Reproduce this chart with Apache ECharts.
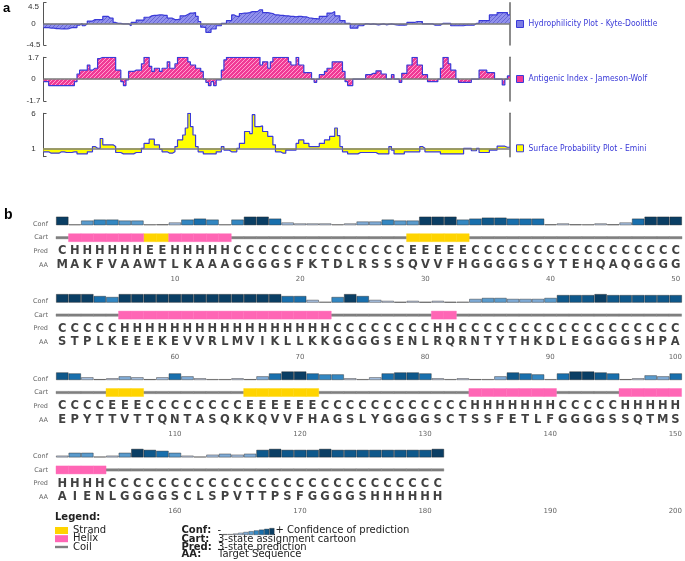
<!DOCTYPE html>
<html><head><meta charset="utf-8">
<script src="https://cdn.jsdelivr.net/npm/echarts@6/dist/echarts.min.js"></script>
<style>html,body{margin:0;padding:0;background:#fff}#c{width:685px;height:561px}</style>
</head><body><div id="c"></div>
<script>
// ---------- Panel a: per-residue profiles (residues 1..181) ----------
const hydrophilicity = [
 -0.8,-0.8,-0.9,-0.9,-1.0,-1.0,-1.1,-1.0,-1.1,-1.0,
 -0.8,-0.8,-0.8,-0.3,0.1,-0.4,0.0,0.6,0.6,0.9,
 0.9,0.9,0.9,1.6,1.6,1.2,1.2,0.3,0.1,0.1,
 0.0,0.0,0.0,-0.4,0.3,0.3,0.8,0.8,0.8,1.4,
 1.4,1.7,1.8,1.8,1.9,1.9,1.8,1.8,1.2,1.2,
 0.9,0.9,1.0,1.7,1.7,2.0,2.3,2.3,2.4,1.6,
 0.5,-0.7,-0.8,-1.8,-1.8,-1.1,-1.1,-0.4,-0.4,0.1,
 0.1,0.7,0.7,1.9,1.6,1.6,2.2,2.3,2.3,2.4,
 2.6,2.6,2.6,3.0,3.0,2.4,2.4,2.3,2.2,1.9,
 1.9,1.8,1.8,1.7,1.7,1.6,1.6,1.5,1.6,1.6,
 1.5,1.5,1.3,1.2,1.1,1.1,1.0,1.6,1.6,1.6,
 2.3,2.3,2.6,1.7,1.7,0.7,0.7,0.1,0.1,-0.9,
 -0.9,-0.9,-0.4,-0.4,0.0,0.0,-0.1,0.0,-0.1,-0.2,
 -0.1,0.0,-0.2,-0.1,0.0,-0.1,-0.2,-0.3,-0.2,-0.3,
 -0.2,0.3,0.3,0.3,0.5,0.5,0.5,0.0,0.0,0.0,
 0.0,-0.3,-0.3,-0.3,0.1,0.1,0.1,0.1,-0.4,-0.4,
 -0.4,-0.4,-0.4,-0.3,-0.3,-0.3,-0.3,0.1,0.1,0.7,
 0.7,0.7,0.7,1.9,1.9,1.9,2.4,2.4,2.4,2.4,1.9
];
const antigenic = [
 -0.2,-0.2,-0.5,-0.5,-0.5,-0.5,-0.5,-0.5,-0.5,-0.5,
 -0.5,-0.5,-0.2,0.4,0.7,0.7,0.7,1.1,0.7,0.85,
 0.85,1.6,1.7,1.7,1.7,1.7,1.7,1.7,0.7,0.7,
 -0.2,-0.5,-0.05,0.6,0.6,0.7,0.7,0.7,1.2,1.7,
 1.7,1.0,0.6,0.85,0.85,0.6,0.85,0.85,1.35,0.85,
 0.85,1.2,1.7,1.7,1.7,1.7,1.35,1.1,1.1,0.85,
 0.85,0.6,0.0,-0.25,-0.5,-0.2,-0.5,-0.05,-0.05,0.7,
 1.5,1.7,1.7,1.7,1.7,1.7,1.7,1.7,1.7,1.7,
 1.7,1.7,1.7,1.7,1.1,1.35,1.35,0.85,1.35,1.7,
 1.7,1.7,1.7,1.7,1.7,1.35,1.1,1.1,1.7,1.1,
 1.1,0.5,0.5,0.5,0.0,-0.25,0.0,0.35,0.35,0.6,
 0.85,0.85,1.35,1.35,1.35,1.35,0.6,-0.2,-0.5,-0.5,
 0.0,0.0,0.0,0.0,0.0,0.35,0.35,0.45,0.45,0.65,
 0.65,0.4,0.4,0.0,0.0,0.35,0.0,0.0,-0.25,0.45,
 0.45,1.1,1.1,1.7,1.7,1.1,1.1,0.35,0.35,-0.2,
 -0.2,-0.2,-0.2,0.0,0.85,1.7,1.7,1.2,0.7,0.7,
 0.0,-0.25,-0.25,-0.25,-0.25,-0.25,0.0,0.0,0.0,0.7,
 0.7,0.7,0.5,0.5,0.5,0.0,0.0,0.0,-0.45,0.0,0.25
];
const surface = [
 0.5,0.5,0.3,0.3,0.3,0.3,0.5,0.5,0.4,0.4,
 0.4,0.5,0.5,0.2,0.2,0.2,0.2,0.5,0.5,1.25,
 1.0,1.0,2.4,1.5,1.5,1.5,1.5,1.25,0.4,0.4,
 0.2,0.2,0.2,0.2,0.2,0.4,0.4,0.4,1.0,1.7,
 1.7,2.3,2.3,1.5,1.5,0.85,0.5,0.5,0.3,0.3,
 0.5,1.25,2.2,2.2,2.9,3.9,6.0,4.1,2.9,1.25,
 0.5,0.5,0.2,0.2,0.2,0.2,0.2,0.5,0.5,1.25,
 0.75,0.75,0.5,0.5,0.5,1.0,1.7,1.7,3.4,3.4,
 3.1,5.8,4.1,4.1,4.2,3.4,3.4,2.7,2.7,1.5,
 0.5,0.5,0.3,0.3,0.75,0.75,0.75,0.75,1.7,2.2,
 2.2,1.7,1.7,1.25,1.25,1.25,1.25,1.7,1.7,2.2,
 2.2,2.7,2.7,3.9,2.8,1.25,0.5,0.5,0.2,0.2,
 0.2,0.2,0.4,0.4,0.4,0.4,0.4,0.4,0.4,0.2,
 0.2,0.2,0.2,0.2,1.25,0.75,0.2,0.2,0.2,0.2,
 0.5,0.5,0.5,0.5,0.5,0.5,1.25,1.0,0.5,0.5,
 0.5,0.5,0.5,0.5,0.2,0.2,0.2,0.2,0.2,0.2,
 0.2,0.2,0.2,1.0,1.0,1.0,0.65,0.65,1.0,0.4,
 0.4,0.4,0.4,0.75,0.75,0.75,1.3,1.3,1.3,1.15,1.15
];
const profileNames = ['Hydrophilicity Plot - Kyte-Doolittle','Antigenic Index - Jameson-Wolf','Surface Probability Plot - Emini'];

// ---------- Panel b: PSIPRED rows (50 residues per row) ----------
const aaRows = [
 'MAKFVAAWTLKAAAGGGGSFKTDLRSSSQVVFHGGGGSGYTEHQAQGGGG',
 'STPLKEEEKEVVRLMVIKLLKKGGGGSENLRQRNTYTHKDLEGGGGSHPA',
 'EPYTTVTTQNTASQKKQVVFHAGSLYGGGGSCTSSFETLFGGGGSSQTMS',
 'AIENLGGGGSCLSPVTTPSFGGGGSHHHHHH'
];
const predRows = [
 'CHHHHHHEEHHHHHCCCCCCCCCCCCCCEEEEECCCCCCCCCCCCCCCCC',
 'CCCCCHHHHHHHHHHHHHHHHHCCCCCCCCHHCCCCCCCCCCCCCCCCCC',
 'CCCCEEECCCCCCCCEEEEEECCCCCCCCCCCCHHHHHHHCCCCCHHHHH',
 'HHHHCCCCCCCCCCCCCCCCCCCCCCCCCCC'
];
const confRows = [
 [9,1,5,6,6,5,5,1,0,3, 6,7,6,1,6,9,9,7,3,2, 2,2,1,2,4,4,6,5,5,9, 9,9,6,7,8,8,7,7,7,0, 2,0,1,2,0,3,7,9,9,9],
 [9,9,9,7,6,9,9,9,9,9, 9,9,9,9,9,9,9,9,7,7, 3,1,6,9,7,3,2,0,2,0, 2,0,1,4,5,5,4,4,4,5, 8,8,8,9,8,8,8,8,8,8],
 [8,7,3,0,2,4,3,0,3,7, 4,2,1,1,2,0,4,7,9,9, 7,6,6,2,1,3,7,8,8,7, 2,1,2,0,1,4,8,7,6,1, 7,9,9,8,7,0,2,5,4,7],
 [2,5,5,1,2,5,9,8,7,5, 2,1,3,4,3,4,8,9,8,8, 8,9,8,8,8,8,8,8,8,8, 9]
];
const rowTickLabels = [[10,20,30,40,50],[60,70,80,90,100],[110,120,130,140,150],[160,170,180,190,200]];
const trackNames = ['AA','Pred','Cart','Conf'];
const confLegendLevels = [0,1,2,3,4,5,6,7,8,9];
const stateNames = {E:'Strand', H:'Helix', C:'Coil'};

// ---------- styles / layout ----------
const levelColors = ['#505050','#c6c6c6','#c3cfe6','#a6bfdf','#7fabd6','#5a9bcd','#3387c2','#186fad','#0e588b','#0a3e64'];
const stateColors = {E:'#ffd400', H:'#ff66b5', C:'#7f7f7f'};
const stateHeights = {E:8, H:8, C:2.4};
const outline = '#3a3ad8';
const FONT = '"DejaVu Sans", Verdana, sans-serif';
const NARROW = '"Liberation Sans Narrow", "DejaVu Sans Condensed", Arial, sans-serif';

function hatch(base, stripe){
  const c = document.createElement('canvas'); c.width = 4; c.height = 4;
  const g = c.getContext('2d'); g.fillStyle = base; g.fillRect(0,0,4,4);
  g.strokeStyle = stripe; g.lineWidth = 1;
  g.beginPath(); g.moveTo(-1,5); g.lineTo(5,-1); g.moveTo(-1,1); g.lineTo(1,-1); g.moveTo(3,5); g.lineTo(5,3); g.stroke();
  return {image: c, repeat: 'repeat'};
}

const profileGrids = [
  {top:2.7, height:42.3, min:-4.5, max:4.5, base:0, vals:hydrophilicity, fill:hatch('#9090ec','#6767d4'), icon:'#7d7de4'},
  {top:57.3, height:43.7, min:-1.7, max:1.7, base:0, vals:antigenic, fill:hatch('#f03a96','#ff9fcf'), icon:'#f03a96'},
  {top:113.3, height:43.4, min:-0.2, max:6, base:1, vals:surface, fill:'#ffff00', icon:'#ffff00'}
];
const legendCenters = [24, 79, 148.3];
const rowTops = [217.2, 294.6, 372.0, 449.4];

const grid = [], xAxis = [], yAxis = [], series = [], legend = [];

// Panel a
profileGrids.forEach((p, k) => {
  grid.push({left:43.5, width:466.5, top:p.top, height:p.height});
  xAxis.push({type:'value', gridIndex:k, min:0.5, max:181.5, show:false});
  const yl = {type:'value', gridIndex:k, min:p.min, max:p.max,
    axisLine:{show:true, lineStyle:{color:'#555', width:1}},
    axisTick:{show:true, inside:true, length:3, lineStyle:{color:'#555'}},
    splitLine:{show:false},
    axisLabel:{fontSize:8, color:'#333', fontFamily:'Arial, "Liberation Sans", sans-serif', margin:10, align:'center', verticalAlignMaxLabel: k===0 ? 'top' : null}};
  if (k < 2) { yl.interval = p.max; }
  else { yl.axisLabel.customValues = [1, 6]; yl.axisTick.customValues = [-0.2, 6]; }
  yAxis.push(yl);
  yAxis.push({type:'value', gridIndex:k, position:'right', min:0, max:1,
    axisLine:{show:true, lineStyle:{color:'#666', width:1.5}}, axisTick:{show:false}, axisLabel:{show:false}, splitLine:{show:false}});
  const d = p.vals.map((v, i) => [i + 0.5, v]);
  d.push([p.vals.length + 0.5, p.vals[p.vals.length - 1]]);
  series.push({type:'line', name:profileNames[k], xAxisIndex:k, yAxisIndex:2*k, data:d, step:'end',
    symbol:'none', silent:true, lineStyle:{color:outline, width:1.2}, itemStyle:{color:p.icon},
    areaStyle:{color:p.fill, opacity:1, origin: p.base === 0 ? 'auto' : p.base},
    markLine:{silent:true, symbol:'none', label:{show:false}, lineStyle:{color:'#7a7a7a', width:1.6, type:'solid'}, data:[{yAxis:p.base}]}
  });
  legend.push({left:516, top:legendCenters[k] - 6, padding:0, orient:'vertical', selectedMode:false,
    itemWidth:7, itemHeight:7,
    data:[{name:profileNames[k], icon:'rect', itemStyle:{color:p.icon, borderColor:outline, borderWidth:1}}],
    textStyle:{fontSize:8.5, color:'#3a3ad8', fontFamily:NARROW, lineHeight:12}});
});

// Panel b rows
const seqBase = grid.length; // 3
rowTops.forEach((T, r) => {
  grid.push({left:56, width:626, top:T, height:54.7});
});
const confBase = grid.length; // 7
rowTops.forEach((T, r) => {
  grid.push({left:56, width:626, top:T - 0.6, height:8.7});
});
rowTops.forEach((T, r) => {
  xAxis.push({type:'value', gridIndex:seqBase + r, min:50*r + 0.5, max:50*r + 50.5,
    axisLine:{show:false}, axisTick:{show:false}, splitLine:{show:false},
    axisLabel:{customValues:rowTickLabels[r], fontSize:7, color:'#666', fontFamily:FONT, margin:4}});
  yAxis.push({type:'category', gridIndex:seqBase + r, data:trackNames,
    axisLine:{show:false}, axisTick:{show:false}, splitLine:{show:false},
    axisLabel:{interval:0, fontSize:6.5, color:'#666', fontFamily:FONT, margin:8}});
});
rowTops.forEach((T, r) => {
  xAxis.push({type:'category', gridIndex:confBase + r, data:Array.from({length:50}, (_, i) => String(50*r + i + 1)), show:false, boundaryGap:true});
  yAxis.push({type:'value', gridIndex:confBase + r, min:0, max:9, show:false});
});

const seqY0 = 2*3; // yAxis index of first seq grid
const confY0 = seqY0 + 4;
rowTops.forEach((T, r) => {
  // confidence bars
  series.push({type:'bar', xAxisIndex:confBase + r, yAxisIndex:confY0 + r, silent:true,
    barCategoryGap:'0%', barMinHeight:1,
    itemStyle:{borderColor:'rgba(35,35,35,0.6)', borderWidth:0.7},
    data:confRows[r].map(v => ({value:v, itemStyle:{color:levelColors[v]}}))});
  // cartoon
  ['C','E','H'].forEach(st => {
    const data = [];
    predRows[r].split('').forEach((c, i) => { if (c === st) data.push([50*r + i + 1, 'Cart']); });
    const h = stateHeights[st], col = stateColors[st];
    series.push({type:'custom', name:stateNames[st], xAxisIndex:seqBase + r, yAxisIndex:seqY0 + r,
      silent:true, itemStyle:{color:col}, data,
      renderItem:(params, api) => {
        const x = api.value(0), yv = api.value(1);
        const p0 = api.coord([x - 0.5, yv]), p1 = api.coord([x + 0.5, yv]);
        return {type:'rect', shape:{x:p0[0], y:p0[1] - h/2, width:p1[0] - p0[0], height:h},
          style:{fill:col, stroke:col, lineWidth:0.4}};
      }});
  });
  // prediction and sequence letters
  [['Pred', predRows[r]], ['AA', aaRows[r]]].forEach(([track, str]) => {
    series.push({type:'scatter', xAxisIndex:seqBase + r, yAxisIndex:seqY0 + r, silent:true,
      symbolSize:1, itemStyle:{color:'rgba(0,0,0,0)'},
      data:str.split('').map((c, i) => [50*r + i + 1, track, c]),
      label:{show:true, position:'inside', formatter:p => p.value[2], fontSize:11.5, fontWeight:'bold',
        fontFamily:FONT, color:'#111'}});
  });
});

// legend mini bars (confidence scale)
const lgGrid = grid.length;
grid.push({left:222.5, width:52, top:528, height:7});
xAxis.push({type:'category', gridIndex:lgGrid, data:confLegendLevels.map(String), show:false});
yAxis.push({type:'value', gridIndex:lgGrid, min:0, max:9, show:false});
series.push({type:'bar', xAxisIndex:xAxis.length - 1, yAxisIndex:yAxis.length - 1, silent:true,
  barCategoryGap:'0%', barMinHeight:1, itemStyle:{borderColor:'rgba(35,35,35,0.6)', borderWidth:0.6},
  data:confLegendLevels.map(v => ({value:v, itemStyle:{color:levelColors[v]}}))});

// bottom legend: Strand / Helix / Coil
[['E', 530.5, 7], ['H', 538.7, 7], ['C', 547, 2.4]].forEach(([st, cy, ih]) => {
  legend.push({left:55, top:cy - 6, padding:0, selectedMode:false, itemWidth:13, itemHeight:ih,
    data:[{name:stateNames[st], icon:'rect', itemStyle:{color:stateColors[st], borderWidth:0}}],
    textStyle:{fontSize:10, color:'#222', fontFamily:FONT, lineHeight:12}});
});

function txt(x, y, text, font, fill){
  return {type:'text', x, y, silent:true, style:{text, font, fill: fill || '#222', verticalAlign:'middle', align:'left'}};
}
const graphic = [
  txt(3, 8, 'a', 'bold 13px Arial, "Liberation Sans", sans-serif', '#000'),
  txt(4, 215, 'b', 'bold 14px Arial, "Liberation Sans", sans-serif', '#000'),
  txt(55, 517, 'Legend:', 'bold 10px ' + FONT),
  txt(181.5, 530.7, 'Conf:', 'bold 10px ' + FONT),
  txt(181.5, 539, 'Cart:', 'bold 10px ' + FONT),
  txt(181.5, 547, 'Pred:', 'bold 10px ' + FONT),
  txt(181.5, 554.7, 'AA:', 'bold 10px ' + FONT),
  txt(217.5, 530, '-', '10px ' + FONT),
  txt(275.5, 530.7, '+ Confidence of prediction', '10px ' + FONT),
  txt(218, 539, '3-state assignment cartoon', '10px ' + FONT),
  txt(218, 547, '3-state prediction', '10px ' + FONT),
  txt(218, 554.7, 'Target Sequence', '10px ' + FONT)
];

const chart = echarts.init(document.getElementById('c'), null, {renderer:'canvas', width:685, height:561});
chart.setOption({animation:false, backgroundColor:'#fff', grid, xAxis, yAxis, series, legend, graphic});
</script>
</body></html>
